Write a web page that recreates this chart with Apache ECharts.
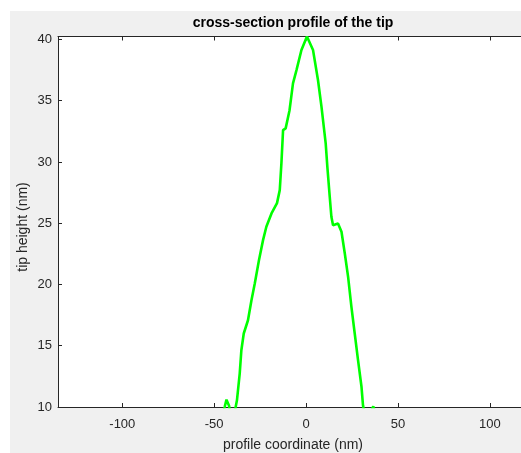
<!DOCTYPE html>
<html>
<head>
<meta charset="utf-8">
<script src="https://cdn.jsdelivr.net/npm/echarts@6/dist/echarts.min.js"></script>
<style>
html,body{margin:0;padding:0;background:#ffffff;width:521px;height:453px;overflow:hidden;}
#bg{position:absolute;left:10px;top:11px;width:511px;height:442px;background:#f0f0f0;}
#chart{width:511px;height:442px;}
</style>
</head>
<body>
<div id="bg"><div id="chart"></div></div>
<script>
const titleText = 'cross-section profile of the tip';
const xName = 'profile coordinate (nm)';
const yName = 'tip height (nm)';
const xTicks = [-100, -50, 0, 50, 100];
const yTicks = [10, 15, 20, 25, 30, 35, 40];
const profileX = [-46, -44.3, -43.3, -42.6, -41.9, -41, -39.5, -38.3, -37.6, -36.1, -35.2, -33.9, -31.6, -29.7, -27.9, -25.6, -23.4, -21.6, -18.8, -15.8, -14.3, -13.4, -12.5, -11.1, -10.3, -9.0, -7.1, -5.2, -2.5, 0.5, 3.8, 6.5, 8.4, 10.7, 11.6, 12.9, 13.8, 14.7, 15.6, 17.4, 19.3, 21.1, 22.9, 24.7, 26.5, 28.3, 30.2, 31.0, 32.0, 34.0, 36.6, 38.0];
const profileY = [9.0, 10.0, 10.6, 10.55, 10.1, 9.3, 9.0, 10.0, 10.55, 12.73, 14.63, 16.0, 17.08, 18.72, 20.08, 21.99, 23.62, 24.71, 25.8, 26.64, 27.7, 29.91, 32.6, 32.74, 32.87, 34.2, 36.42, 37.5, 39.14, 40.24, 39.14, 36.69, 34.51, 31.52, 29.6, 27.16, 25.52, 24.84, 24.76, 24.98, 24.3, 22.53, 20.62, 18.17, 16.0, 13.82, 11.63, 10.14, 9.3, 9.2, 10.06, 9.2];

const axisColor = '#262626';
const font = '"Liberation Sans", Arial, sans-serif';
const chart = echarts.init(document.getElementById('chart'));
chart.setOption({
  backgroundColor: '#f0f0f0',
  animation: false,
  grid: {left: 48, top: 25.5, right: 0, bottom: 46, containLabel: false, show: true, backgroundColor: '#ffffff', borderWidth: 0},
  xAxis: [{
    type: 'value', min: -135, max: 117, position: 'bottom',
    axisLine: {show: true, onZero: false, lineStyle: {color: axisColor, width: 1}},
    axisTick: {show: true, inside: true, length: 4, customValues: xTicks, lineStyle: {color: axisColor}},
    axisLabel: {customValues: xTicks, color: axisColor, fontSize: 13, fontFamily: font, margin: 11},
    splitLine: {show: false}
  }, {
    type: 'value', min: -135, max: 117, position: 'top',
    axisLine: {show: true, onZero: false, lineStyle: {color: axisColor, width: 1}},
    axisTick: {show: true, inside: true, length: 4, customValues: xTicks, lineStyle: {color: axisColor}},
    axisLabel: {show: false},
    splitLine: {show: false}
  }],
  yAxis: [{
    type: 'value', min: 10, max: 40.24, position: 'left',
    axisLine: {show: true, onZero: false, lineStyle: {color: axisColor, width: 1}},
    axisTick: {show: true, inside: true, length: 4, customValues: yTicks, lineStyle: {color: axisColor}},
    axisLabel: {customValues: yTicks, color: axisColor, fontSize: 13, fontFamily: font, margin: 6},
    splitLine: {show: false}
  }],
  graphic: [
    {type: 'text', x: 283, y: 12, style: {text: titleText, font: 'bold 14px ' + font, fill: '#000000', textAlign: 'center', textVerticalAlign: 'middle'}},
    {type: 'text', x: 283, y: 434, style: {text: xName, font: '14px ' + font, fill: axisColor, textAlign: 'center', textVerticalAlign: 'middle'}},
    {type: 'text', x: 13, y: 216, rotation: Math.PI / 2, style: {text: yName, font: '14px ' + font, fill: axisColor, textAlign: 'center', textVerticalAlign: 'middle'}}
  ],
  series: [{
    type: 'line',
    data: profileX.map((x, i) => [x, profileY[i]]),
    showSymbol: false, symbol: 'none', clip: true, smooth: false,
    lineStyle: {color: '#00ff00', width: 2.6}
  }]
});
</script>
</body>
</html>
